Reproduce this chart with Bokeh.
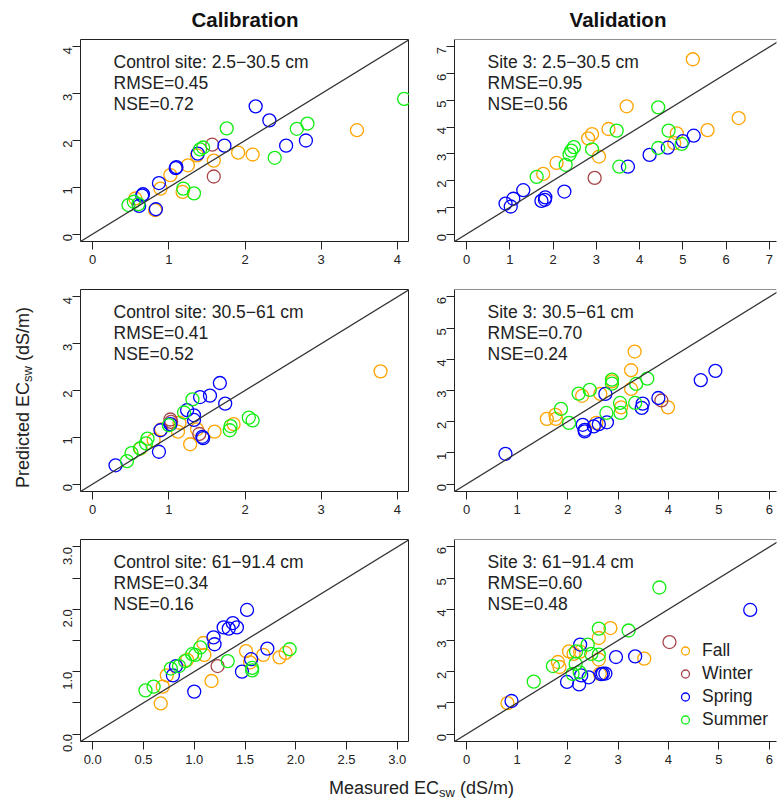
import math
from bokeh.plotting import figure
from bokeh.layouts import row, column
from bokeh.models import Range1d, FixedTicker, Slope, Span, Legend, LegendItem, Label
from bokeh.embed import file_html
from bokeh.resources import INLINE

# ---------------- data ----------------
SEASONS = ["Fall", "Winter", "Spring", "Summer"]
COLORS = {"Fall": "#FFA500", "Winter": "#A8464A", "Spring": "#0000FF", "Summer": "#11EE11"}

COLUMN_TITLES = ["Calibration", "Validation"]

# Panel 1: Control site 2.5-30.5 cm (calibration)
P1_FALL_X = [3.47, 1.91, 2.10, 1.59, 1.25, 1.02, 1.37, 0.89, 1.18, 0.56, 0.82]
P1_FALL_Y = [2.22, 1.74, 1.70, 1.57, 1.47, 1.26, 1.68, 0.97, 0.90, 0.76, 0.51]
P1_WINTER_X = [1.57, 1.59]
P1_WINTER_Y = [1.91, 1.23]
P1_SPRING_X = [2.14, 2.32, 1.73, 1.38, 2.54, 2.80, 1.10, 1.09, 0.87, 0.66, 0.65, 0.61, 0.83]
P1_SPRING_Y = [2.73, 2.43, 1.89, 1.72, 1.89, 2.00, 1.43, 1.41, 1.09, 0.85, 0.82, 0.60, 0.53]
P1_SUMMER_X = [4.09, 1.76, 2.68, 2.82, 2.39, 1.41, 1.45, 1.19, 1.33, 0.47, 0.54, 0.60]
P1_SUMMER_Y = [2.89, 2.26, 2.25, 2.36, 1.63, 1.81, 1.85, 0.97, 0.87, 0.62, 0.69, 0.64]

# Panel 2: Site 3 2.5-30.5 cm (validation)
P2_FALL_X = [5.23, 3.70, 6.29, 5.57, 3.28, 2.90, 2.81, 4.86, 4.80, 3.06, 2.08, 1.77]
P2_FALL_Y = [6.54, 4.78, 4.34, 3.89, 3.93, 3.74, 3.58, 3.77, 3.40, 2.90, 2.66, 2.25]
P2_WINTER_X = [2.96]
P2_WINTER_Y = [2.10]
P2_SPRING_X = [5.25, 5.00, 4.65, 4.23, 3.73, 2.26, 1.31, 1.08, 0.90, 1.02, 1.73, 1.82, 1.81]
P2_SPRING_Y = [3.68, 3.48, 3.23, 2.96, 2.52, 1.59, 1.64, 1.32, 1.14, 1.03, 1.24, 1.37, 1.28]
P2_SUMMER_X = [4.43, 4.67, 3.47, 4.43, 4.97, 2.48, 2.42, 2.38, 2.90, 2.29, 1.62, 3.53]
P2_SUMMER_Y = [4.74, 3.87, 3.87, 3.22, 3.37, 3.25, 3.12, 2.98, 3.17, 2.59, 2.14, 2.52]

# Panel 3: Control site 30.5-61 cm
P3_FALL_X = [3.78, 1.85, 1.60, 1.28, 1.14, 1.12, 0.90, 1.37, 0.80, 0.63]
P3_FALL_Y = [2.41, 1.28, 1.12, 0.85, 1.31, 1.12, 1.17, 1.17, 0.94, 0.76]
P3_WINTER_X = [1.02, 1.03, 1.40]
P3_WINTER_Y = [1.38, 1.33, 1.07]
P3_SPRING_X = [1.67, 1.54, 1.41, 1.74, 1.24, 1.33, 1.33, 1.02, 0.89, 1.44, 1.45, 0.87, 0.30]
P3_SPRING_Y = [2.16, 1.89, 1.86, 1.72, 1.58, 1.47, 1.37, 1.28, 1.15, 1.01, 0.98, 0.69, 0.40]
P3_SUMMER_X = [1.31, 1.20, 2.05, 2.10, 1.81, 1.80, 1.00, 0.72, 0.70, 0.62, 0.51, 0.45]
P3_SUMMER_Y = [1.81, 1.53, 1.42, 1.36, 1.24, 1.15, 1.26, 0.97, 0.87, 0.76, 0.66, 0.49]

# Panel 4: Site 3 30.5-61 cm
P4_FALL_X = [3.33, 3.26, 3.26, 3.99, 3.06, 2.88, 2.65, 2.29, 1.76, 1.77, 1.59, 2.57]
P4_FALL_Y = [4.25, 3.65, 3.05, 2.46, 2.46, 3.29, 2.89, 2.83, 2.22, 2.09, 2.09, 1.96]
P4_WINTER_X = [3.86]
P4_WINTER_Y = [2.68]
P4_SPRING_X = [4.93, 4.64, 3.80, 3.49, 3.47, 2.75, 2.78, 2.62, 2.52, 2.30, 2.34, 2.34, 0.77]
P4_SPRING_Y = [3.63, 3.33, 2.76, 2.58, 2.44, 2.89, 1.98, 1.92, 1.85, 1.90, 1.74, 1.69, 0.97]
P4_SUMMER_X = [3.58, 3.36, 2.88, 2.88, 2.44, 2.22, 1.87, 2.03, 3.04, 3.05, 3.34, 2.77]
P4_SUMMER_Y = [3.38, 3.21, 3.35, 3.22, 3.02, 2.90, 2.41, 1.96, 2.60, 2.28, 2.60, 2.28]

# Panel 5: Control site 61-91.4 cm
P5_FALL_X = [1.51, 1.68, 1.84, 1.90, 1.55, 1.10, 1.09, 1.17, 0.93, 0.69, 0.67, 0.73]
P5_FALL_Y = [1.33, 1.27, 1.23, 1.30, 1.15, 1.27, 1.46, 0.85, 1.19, 0.76, 0.49, 0.94]
P5_WINTER_X = [1.23]
P5_WINTER_Y = [1.09]
P5_SPRING_X = [1.52, 1.38, 1.29, 1.34, 1.42, 1.19, 1.20, 1.72, 1.56, 1.47, 1.00, 0.82, 0.79]
P5_SPRING_Y = [1.99, 1.78, 1.71, 1.69, 1.71, 1.55, 1.44, 1.37, 1.20, 1.00, 0.68, 1.09, 0.94]
P5_SUMMER_X = [1.94, 1.33, 1.57, 1.57, 1.06, 1.01, 0.98, 0.91, 0.85, 0.77, 0.60, 0.52]
P5_SUMMER_Y = [1.36, 1.17, 1.06, 1.02, 1.39, 1.27, 1.28, 1.17, 1.09, 1.05, 0.76, 0.70]

# Panel 6: Site 3 61-91.4 cm
P6_FALL_X = [2.85, 2.62, 2.03, 2.12, 2.25, 2.62, 3.52, 1.81, 1.84, 2.64, 0.81]
P6_FALL_Y = [3.40, 3.08, 2.65, 2.57, 2.64, 2.39, 2.42, 2.31, 2.15, 1.93, 0.99]
P6_WINTER_X = [4.02]
P6_WINTER_Y = [2.95]
P6_SPRING_X = [5.62, 2.25, 2.96, 3.34, 2.70, 2.75, 2.67, 2.27, 2.42, 1.99, 2.23, 0.89]
P6_SPRING_Y = [3.98, 2.87, 2.47, 2.49, 1.94, 1.94, 1.92, 1.88, 1.82, 1.67, 1.59, 1.06]
P6_SUMMER_X = [3.82, 3.21, 2.62, 2.40, 2.47, 2.62, 2.17, 2.16, 1.71, 2.10, 2.24, 1.33]
P6_SUMMER_Y = [4.70, 3.32, 3.38, 2.87, 2.57, 2.55, 2.65, 2.25, 2.18, 1.93, 1.98, 1.68]

P1_TEXT = ["Control site: 2.5\u221230.5 cm", "RMSE=0.45", "NSE=0.72"]
P2_TEXT = ["Site 3: 2.5\u221230.5 cm", "RMSE=0.95", "NSE=0.56"]
P3_TEXT = ["Control site: 30.5\u221261 cm", "RMSE=0.41", "NSE=0.52"]
P4_TEXT = ["Site 3: 30.5\u221261 cm", "RMSE=0.70", "NSE=0.24"]
P5_TEXT = ["Control site: 61\u221291.4 cm", "RMSE=0.34", "NSE=0.16"]
P6_TEXT = ["Site 3: 61\u221291.4 cm", "RMSE=0.60", "NSE=0.48"]

P1_TICKS = [0, 1, 2, 3, 4]
P2_TICKS = [0, 1, 2, 3, 4, 5, 6, 7]
P3_TICKS = [0, 1, 2, 3, 4]
P4_TICKS = [0, 1, 2, 3, 4, 5, 6]
P5_TICKS = [0.0, 0.5, 1.0, 1.5, 2.0, 2.5, 3.0]
P5_X_LABELS = ["0.0", "0.5", "1.0", "1.5", "2.0", "2.5", "3.0"]
P5_Y_LABELS = ["0.0", "", "1.0", "", "2.0", "", "3.0"]
P6_TICKS = [0, 1, 2, 3, 4, 5, 6]

# axis titles: main text, subscript, unit (a word gap goes before the unit)
X_LABEL = ["Measured EC", "sw", "(dS/m)"]
Y_LABEL = ["Predicted EC", "sw", "(dS/m)"]

# ---------------- layout constants ----------------
FONT = "Liberation Sans"
TXT = "#222222"
FH = 202
LEFT_FW, RIGHT_FW = 329, 322
LEFT_BL, RIGHT_BL = 40, 45
YLAB_W = 40
TITLE_H = 39

panels = [
    dict(series={"Fall": (P1_FALL_X, P1_FALL_Y), "Winter": (P1_WINTER_X, P1_WINTER_Y),
                 "Spring": (P1_SPRING_X, P1_SPRING_Y), "Summer": (P1_SUMMER_X, P1_SUMMER_Y)},
         lim=4, ticks=P1_TICKS, text=P1_TEXT, right=False),
    dict(series={"Fall": (P2_FALL_X, P2_FALL_Y), "Winter": (P2_WINTER_X, P2_WINTER_Y),
                 "Spring": (P2_SPRING_X, P2_SPRING_Y), "Summer": (P2_SUMMER_X, P2_SUMMER_Y)},
         lim=7, ticks=P2_TICKS, text=P2_TEXT, right=True),
    dict(series={"Fall": (P3_FALL_X, P3_FALL_Y), "Winter": (P3_WINTER_X, P3_WINTER_Y),
                 "Spring": (P3_SPRING_X, P3_SPRING_Y), "Summer": (P3_SUMMER_X, P3_SUMMER_Y)},
         lim=4, ticks=P3_TICKS, text=P3_TEXT, right=False),
    dict(series={"Fall": (P4_FALL_X, P4_FALL_Y), "Winter": (P4_WINTER_X, P4_WINTER_Y),
                 "Spring": (P4_SPRING_X, P4_SPRING_Y), "Summer": (P4_SUMMER_X, P4_SUMMER_Y)},
         lim=6, ticks=P4_TICKS, text=P4_TEXT, right=True),
    dict(series={"Fall": (P5_FALL_X, P5_FALL_Y), "Winter": (P5_WINTER_X, P5_WINTER_Y),
                 "Spring": (P5_SPRING_X, P5_SPRING_Y), "Summer": (P5_SUMMER_X, P5_SUMMER_Y)},
         lim=3, ticks=P5_TICKS, text=P5_TEXT, right=False,
         xlabels=P5_X_LABELS, ylabels=P5_Y_LABELS),
    dict(series={"Fall": (P6_FALL_X, P6_FALL_Y), "Winter": (P6_WINTER_X, P6_WINTER_Y),
                 "Spring": (P6_SPRING_X, P6_SPRING_Y), "Summer": (P6_SUMMER_X, P6_SUMMER_Y)},
         lim=6, ticks=P6_TICKS, text=P6_TEXT, right=True, legend=True),
]


def style_axis(ax, ticks, labels=None):
    ax.ticker = FixedTicker(ticks=ticks)
    if labels is not None:
        ax.major_label_overrides = {t: l for t, l in zip(ticks, labels)}
    ax.minor_tick_line_color = None
    ax.major_tick_in = 0
    ax.major_tick_out = 8
    ax.major_tick_line_color = "#222222"
    ax.major_tick_line_width = 1
    ax.major_label_text_font = FONT
    ax.major_label_text_font_size = "13px"
    ax.major_label_text_color = TXT
    ax.major_label_standoff = 5


def make_panel(spec, border_bottom):
    lim = spec["lim"]
    pad = 0.04 * lim
    lo, hi = -pad, lim + pad
    fw = RIGHT_FW if spec["right"] else LEFT_FW
    if spec["right"]:
        # the reference is cut at the window edge: keep the same scale
        scale = 327.0 / (hi - lo)
        xr = Range1d(lo, lo + fw / scale)
    else:
        xr = Range1d(lo, hi)
    yr = Range1d(lo, hi)
    p = figure(frame_width=fw, frame_height=FH, x_range=xr, y_range=yr,
               output_backend="svg", toolbar_location=None,
               min_border_left=RIGHT_BL if spec["right"] else LEFT_BL,
               min_border_right=1 if spec["right"] else 0,
               min_border_top=0, min_border_bottom=border_bottom)
    p.grid.visible = False
    p.background_fill_color = "white"
    p.border_fill_color = "white"
    style_axis(p.xaxis[0], spec["ticks"], spec.get("xlabels"))
    style_axis(p.yaxis[0], spec["ticks"], spec.get("ylabels"))
    p.yaxis[0].major_label_orientation = math.pi / 2
    if spec["right"]:
        p.outline_line_color = None
        p.xaxis[0].axis_line_color = "#222222"
        p.yaxis[0].axis_line_color = "#222222"
        p.add_layout(Span(location=hi, dimension="width", line_color="#222222", line_width=1))
    else:
        p.outline_line_color = "#222222"
        p.outline_line_alpha = 1
        p.xaxis[0].axis_line_color = None
        p.yaxis[0].axis_line_color = None

    p.add_layout(Slope(gradient=1, y_intercept=0, line_color="#333333", line_width=1.3))

    rends = {}
    for s in SEASONS:
        xs, ys = spec["series"][s]
        rends[s] = p.scatter(xs, ys, marker="circle", size=13, fill_color=None,
                             line_color=COLORS[s], line_width=1.3)

    # annotation text, placed by pixel offsets from the frame's top-left corner
    xspan = xr.end - xr.start
    yspan = yr.end - yr.start
    for i, t in enumerate(spec["text"]):
        px_down = 22 + 21 * i
        p.add_layout(Label(x=xr.start + 33 * xspan / fw, y=yr.end - px_down * yspan / FH,
                           text=t, text_font=FONT, text_font_size="17.5px",
                           text_color=TXT, text_baseline="middle", text_align="left"))

    if spec.get("legend"):
        items = [LegendItem(label=s, renderers=[rends[s]]) for s in SEASONS]
        lg = Legend(items=items, location=(221, 10), border_line_color=None,
                    background_fill_alpha=0, padding=0, margin=0, spacing=0,
                    glyph_width=20, glyph_height=23, label_height=23,
                    label_standoff=7, label_text_font=FONT,
                    label_text_font_size="17.5px", label_text_color=TXT)
        p.add_layout(lg)
    return p


def text_fig(w, h):
    p = figure(width=w, height=h, x_range=Range1d(0, w), y_range=Range1d(0, h),
               output_backend="svg", toolbar_location=None, min_border=0,
               x_axis_location=None, y_axis_location=None)
    p.outline_line_color = None
    p.grid.visible = False
    return p


W = {' ': 278, '(': 333, ')': 333, '/': 278, 'P': 667, 'E': 667, 'C': 722, 'M': 833,
     'S': 667, 'r': 333, 'e': 556, 'd': 556, 'i': 222, 'c': 500, 't': 278, 'a': 556,
     's': 500, 'u': 556, 'm': 833, 'w': 722}


def tw(s, size):
    return sum(W.get(c, 556) for c in s) / 1000.0 * size


MAIN_SZ, SUB_SZ, SUB_SHIFT = 18, 13, 5
GAP = tw(" ", MAIN_SZ)

# titles
title_fig = text_fig(777, TITLE_H)
centers = [YLAB_W + LEFT_BL + LEFT_FW / 2,
           YLAB_W + LEFT_BL + LEFT_FW + RIGHT_BL + 327 / 2]
for c, t in zip(centers, COLUMN_TITLES):
    title_fig.add_layout(Label(x=c, y=TITLE_H - 19, text=t, text_font=FONT,
                               text_font_size="20.5px", text_font_style="bold",
                               text_color="#111111", text_align="center",
                               text_baseline="middle"))

# panels
ROW_BB = [48, 48, 34]
grid_rows = []
for r in range(3):
    a = make_panel(panels[2 * r], ROW_BB[r])
    b = make_panel(panels[2 * r + 1], ROW_BB[r])
    grid_rows.append(row(a, b, spacing=0))
grid_h = sum(FH + bb for bb in ROW_BB)

sizes = [MAIN_SZ, SUB_SZ, MAIN_SZ]
gaps = [0, 0, GAP]

# y label (rotated, reading upward)
ylab = text_fig(YLAB_W, grid_h)
total = sum(tw(s, z) + g for s, z, g in zip(Y_LABEL, sizes, gaps))
center_y = grid_h - (397 - TITLE_H)
pos = center_y - total / 2
for i, (s, z, g) in enumerate(zip(Y_LABEL, sizes, gaps)):
    pos += g
    xoff = SUB_SHIFT if i == 1 else 0
    ylab.add_layout(Label(x=22 + xoff, y=pos, text=s, text_font=FONT,
                          text_font_size=f"{z}px", text_color=TXT, angle=math.pi / 2,
                          text_align="left", text_baseline="middle"))
    pos += tw(s, z)

# x label
XLAB_H = 801 - TITLE_H - grid_h
xlab = text_fig(777, XLAB_H)
total = sum(tw(s, z) + g for s, z, g in zip(X_LABEL, sizes, gaps))
pos = 421 - total / 2
for i, (s, z, g) in enumerate(zip(X_LABEL, sizes, gaps)):
    pos += g
    yoff = -SUB_SHIFT if i == 1 else 0
    xlab.add_layout(Label(x=pos, y=XLAB_H - 12 + yoff, text=s, text_font=FONT,
                          text_font_size=f"{z}px", text_color=TXT,
                          text_align="left", text_baseline="middle"))
    pos += tw(s, z)

layout = column(title_fig,
                row(ylab, column(*grid_rows, spacing=0), spacing=0),
                xlab, spacing=0)

open("out.html", "w").write(file_html(layout, INLINE))
